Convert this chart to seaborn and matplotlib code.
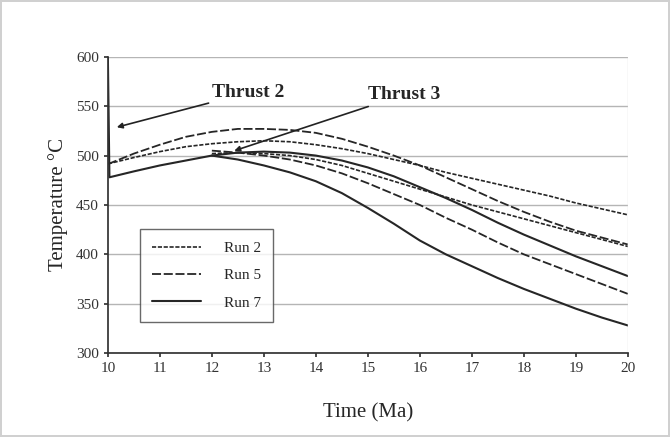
import matplotlib
matplotlib.use("Agg")
import matplotlib.pyplot as plt
import seaborn as sns
import pandas as pd
from matplotlib.lines import Line2D

# ---- data ----
time_t2 = [10.0, 10.03, 10.5, 11, 11.5, 12, 12.5, 13, 13.5, 14, 14.5, 15,
           15.5, 16, 16.5, 17, 17.5, 18, 18.5, 19, 19.5, 20]
time_t3 = [12, 12.5, 13, 13.5, 14, 14.5, 15, 15.5, 16, 16.5, 17, 17.5,
           18, 18.5, 19, 19.5, 20]

run2_a = [492, 492, 498, 504, 509, 512, 514, 515, 514, 511, 507, 502,
          496, 490, 483, 477, 471, 465, 459, 452, 446, 440]
run5_a = [492, 492, 502, 511, 519, 524, 527, 527, 526, 523, 517, 509,
          500, 490, 478, 466, 454, 443, 433, 424, 417, 410]
run7_a = [600, 478, 484, 490, 495, 500, 503, 504, 503, 500, 495, 488,
          479, 468, 457, 445, 432, 420, 409, 398, 388, 378]

run2_b = [502, 503, 502, 500, 496, 490, 482, 474, 466, 458, 450, 443,
          436, 429, 422, 415, 408]
run5_b = [505, 503, 500, 496, 490, 482, 472, 461, 450, 437, 425, 412,
          400, 390, 380, 370, 360]
run7_b = [500, 496, 490, 483, 474, 462, 447, 431, 414, 400, 388, 376,
          365, 355, 345, 336, 328]

runs = ["Run 2", "Run 5", "Run 7"]
y_ticks = [300, 350, 400, 450, 500, 550, 600]
x_ticks = list(range(10, 21))

rows = []
for run, a, b in zip(runs, [run2_a, run5_a, run7_a], [run2_b, run5_b, run7_b]):
    for t, v in zip(time_t2, a):
        rows.append((t, v, run, run + " thrust2"))
    for t, v in zip(time_t3, b):
        rows.append((t, v, run, run + " thrust3"))
df = pd.DataFrame(rows, columns=["time", "temp", "run", "curve"])

sns.set_theme(style="white")
plt.rcParams["font.family"] = ["Liberation Serif", "DejaVu Serif"]

styles = {"Run 2": ((0, (2.5, 1.0)), 1.2),
          "Run 5": ((0, (5, 1.5)), 1.3),
          "Run 7": ("-", 1.5)}

fig = plt.figure(figsize=(6.7, 4.37), dpi=100)
fig.patch.set_facecolor("white")
fig.patch.set_edgecolor("#d0d0d0")
fig.patch.set_linewidth(1.5)
ax = fig.add_axes([0.161, 0.192, 0.776, 0.678])

for curve, sub in df.groupby("curve", sort=False):
    run = sub["run"].iloc[0]
    ls, lw = styles[run]
    sns.lineplot(data=sub, x="time", y="temp", ax=ax, color="#262626",
                 linestyle=ls, linewidth=lw, estimator=None, sort=False,
                 legend=False)

ax.set_xlim(10, 20)
ax.set_ylim(300, 600)
ax.set_xticks(x_ticks)
ax.set_yticks(y_ticks)
ax.yaxis.grid(True, color="#b5b5b5", linewidth=1.0)
ax.xaxis.grid(False)
for s in ["top", "right"]:
    ax.spines[s].set_visible(False)
ax.spines["left"].set_color("#333333")
ax.spines["bottom"].set_color("#333333")
ax.axvline(20, color="#dddddd", linewidth=1.0)
ax.tick_params(axis="both", labelsize=11, colors="#333333", length=3,
               direction="out", left=True, bottom=True)
ax.set_xlabel("Time (Ma)", fontsize=15, labelpad=20)
ax.set_ylabel("Temperature °C", fontsize=15, labelpad=6)

ax.annotate("Thrust 2", xy=(10.12, 528), xytext=(12.0, 555),
            fontsize=14, fontweight="bold", ha="left", va="bottom",
            arrowprops=dict(arrowstyle="-|>", color="#222222", lw=1.2,
                            mutation_scale=8, shrinkA=0))
ax.annotate("Thrust 3", xy=(12.38, 504), xytext=(15.0, 553),
            fontsize=14, fontweight="bold", ha="left", va="bottom",
            arrowprops=dict(arrowstyle="-|>", color="#222222", lw=1.2,
                            mutation_scale=8, shrinkA=0))

handles = [Line2D([0], [0], color="#262626", linestyle=styles[r][0],
                  linewidth=styles[r][1]) for r in runs]
leg = ax.legend(handles, runs, loc="lower left", bbox_to_anchor=(0.062, 0.105),
                borderaxespad=0, fontsize=11, frameon=True, fancybox=False,
                handlelength=3.2, borderpad=0.8, labelspacing=0.9,
                handletextpad=1.5)
leg.get_frame().set_edgecolor("#444444")
leg.get_frame().set_linewidth(1.0)

fig.savefig("out.png", dpi=100, facecolor=fig.get_facecolor(),
            edgecolor=fig.get_edgecolor())
